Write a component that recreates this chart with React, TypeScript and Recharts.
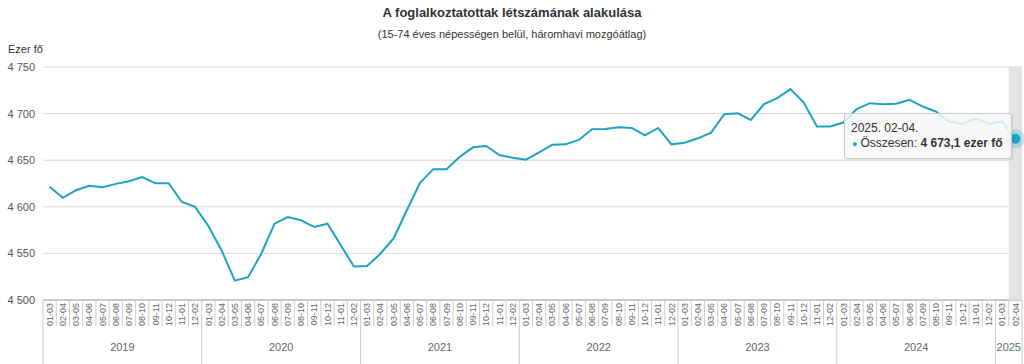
import React from "react";
import {
  LineChart,
  Line,
  XAxis,
  YAxis,
  CartesianGrid,
  Tooltip,
} from "recharts";

const PERIODS = [
  "01-03", "02-04", "03-05", "04-06", "05-07", "06-08",
  "07-09", "08-10", "09-11", "10-12", "11-01", "12-02",
];
const YEARS = ["2019", "2020", "2021", "2022", "2023", "2024", "2025"];

// employed persons, thousand, 3-month moving average
const V2019 = [4621.5, 4609.6, 4617.8, 4622.5, 4621.0, 4624.6, 4627.5, 4631.8, 4625.2, 4625.3, 4605.2, 4599.9];
const V2020 = [4579.4, 4553.2, 4520.8, 4524.4, 4549.6, 4581.9, 4589.0, 4585.5, 4578.3, 4581.9, 4559.0, 4535.9];
const V2021 = [4536.4, 4549.6, 4566.1, 4596.3, 4625.7, 4640.4, 4640.4, 4653.7, 4663.8, 4665.2, 4655.5, 4652.7];
const V2022 = [4650.5, 4658.5, 4666.6, 4667.0, 4671.7, 4683.2, 4683.5, 4685.3, 4684.6, 4676.7, 4684.6, 4667.0];
const V2023 = [4668.8, 4673.5, 4679.6, 4699.4, 4700.4, 4693.2, 4710.1, 4716.6, 4726.3, 4711.9, 4686.1, 4686.1];
const V2024 = [4690.4, 4704.9, 4711.2, 4710.1, 4710.5, 4714.8, 4707.6, 4702.2, 4691.5, 4688.9, 4695.0, 4688.9];
const V2025 = [4691.5, 4673.1];

const SERIES = [V2019, V2020, V2021, V2022, V2023, V2024, V2025];
const Y_TICKS = [4500, 4550, 4600, 4650, 4700, 4750];

const data = YEARS.flatMap((year, yi) =>
  SERIES[yi].map((value, i) => ({
    key: `${year}. ${PERIODS[i]}`,
    year,
    period: PERIODS[i],
    value,
  }))
);

const W = 1024;
const H = 364;
const LEFT = 43;
const RIGHT = 2;
const N = data.length;
const STEP = (W - LEFT - RIGHT) / N;
const LINE_COLOR = "#1ca3c2";
const FONT = '"Liberation Sans", Arial, sans-serif';

const fmtThousands = (v: number, digits = 0) => {
  const [int, dec] = v.toFixed(digits).split(".");
  const s = int.replace(/\B(?=(\d{3})+(?!\d))/g, " ");
  return dec ? `${s},${dec}` : s;
};

const PeriodTick = (props: any) => {
  const { x, y, payload } = props;
  const idx = payload.index;
  const row = data[idx];
  const left = x - STEP / 2;
  const first = idx % 12 === 0;
  const count = Math.min(12, N - idx);
  return (
    <g>
      <line x1={left} x2={left} y1={y} y2={first ? y + 64 : y + 26} stroke="#ccc" />
      {idx === N - 1 && (
        <line x1={x + STEP / 2} x2={x + STEP / 2} y1={y} y2={y + 64} stroke="#ccc" />
      )}
      <text
        x={x}
        y={y + 3}
        dy="0.35em"
        transform={`rotate(-90, ${x}, ${y + 3})`}
        textAnchor="end"
        fontSize={9}
        fill="#666"
        fontFamily={FONT}
      >
        {row.period}
      </text>
      {first && (
        <text
          x={left + (count * STEP) / 2}
          y={y + 51}
          textAnchor="middle"
          fontSize={11}
          fill="#666"
          fontFamily={FONT}
        >
          {row.year}
        </text>
      )}
    </g>
  );
};

const BandCursor = (props: any) => {
  const { points } = props;
  if (!points || points.length < 2) return null;
  const x = points[0].x;
  return (
    <rect
      x={x - STEP / 2}
      y={points[0].y}
      width={STEP}
      height={points[1].y - points[0].y}
      fill="#e3e3e3"
    />
  );
};

const TooltipBox = ({ active, payload }: any) => {
  if (!active || !payload || !payload.length) return null;
  const row = payload[0].payload;
  return (
    <div
      style={{
        background: "rgba(247,247,247,0.85)",
        border: "1px solid #c8c8c8",
        borderRadius: 3,
        padding: "7px 8px 6px 6px",
        fontFamily: FONT,
        fontSize: 12,
        color: "#333",
        lineHeight: "15px",
        whiteSpace: "nowrap",
        boxShadow: "1px 1px 2px rgba(0,0,0,0.08)",
      }}
    >
      <div>{row.key}.</div>
      <div>
        <span style={{ color: LINE_COLOR, fontSize: 9, marginLeft: 1, marginRight: 3 }}>●</span>
        Összesen: <b>{fmtThousands(row.value, 1)} ezer fő</b>
      </div>
    </div>
  );
};

export default function App() {
  return (
    <div style={{ position: "absolute", left: 0, top: 0, width: W, height: H, background: "#fff" }}>
      <div
        style={{
          position: "absolute", top: 5, left: 0, width: W, textAlign: "center",
          fontFamily: FONT, fontSize: 13, fontWeight: "bold", color: "#333",
        }}
      >
        A foglalkoztatottak létszámának alakulása
      </div>
      <div
        style={{
          position: "absolute", top: 28, left: 0, width: W, textAlign: "center",
          fontFamily: FONT, fontSize: 11, color: "#333",
        }}
      >
        (15-74 éves népességen belül, háromhavi mozgóátlag)
      </div>
      <div
        style={{
          position: "absolute", top: 43, left: 8,
          fontFamily: FONT, fontSize: 11, color: "#333",
        }}
      >
        Ezer fő
      </div>
      <LineChart
        width={W}
        height={H}
        data={data}
        margin={{ top: 67, right: RIGHT, left: 0, bottom: 0 }}
      >
        <CartesianGrid vertical={false} stroke="#d8d8d8" />
        <XAxis
          dataKey="key"
          interval={0}
          height={64}
          tickSize={0}
          tickMargin={0}
          tickLine={false}
          stroke="#aaa"
          padding={{ left: STEP / 2, right: STEP / 2 }}
          tick={<PeriodTick />}
        />
        <YAxis
          width={LEFT}
          domain={[4500, 4750]}
          ticks={Y_TICKS}
          axisLine={false}
          tickLine={false}
          tickSize={0}
          tickMargin={8}
          tickFormatter={(v: number) => fmtThousands(v)}
          tick={{ fontSize: 11, fill: "#555", fontFamily: FONT }}
        />
        <Tooltip
          defaultIndex={N - 1}
          position={{ x: 844, y: 113 }}
          isAnimationActive={false}
          cursor={<BandCursor />}
          content={<TooltipBox />}
          wrapperStyle={{ outline: "none" }}
        />
        <Line
          type="linear"
          dataKey="value"
          stroke={LINE_COLOR}
          strokeWidth={2}
          dot={false}
          activeDot={{ r: 5, fill: LINE_COLOR, stroke: "rgba(28,163,194,0.25)", strokeWidth: 9 }}
          isAnimationActive={false}
        />
      </LineChart>
    </div>
  );
}
